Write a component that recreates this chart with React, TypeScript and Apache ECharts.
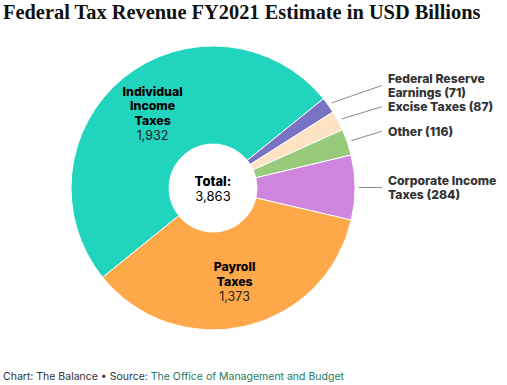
import React, { useEffect, useRef } from "react";
import * as echarts from "echarts";

const categories = [
  "Individual Income Taxes",
  "Federal Reserve Earnings",
  "Excise Taxes",
  "Other",
  "Corporate Income Taxes",
  "Payroll Taxes",
];
const labelNames = [
  "Individual\nIncome\nTaxes",
  "Federal Reserve\nEarnings",
  "Excise Taxes",
  "Other",
  "Corporate Income\nTaxes",
  "Payroll\nTaxes",
];
const values = [1932, 71, 87, 116, 284, 1373];
const insideLabel = [true, false, false, false, false, true];
const colors = ["#20D4BE", "#7A73C4", "#FDE2C3", "#99C97B", "#CF84DD", "#FFA84A"];

const FONT = "Inter, 'Noto Sans', sans-serif";
const CX = 213;
const CY = 188;
const R_IN = 44;
const R_OUT = 142;
const LABEL_COL = CX + R_OUT + 33;

export default function App() {
  const ref = useRef<HTMLDivElement>(null);
  useEffect(() => {
    if (!ref.current) return;
    const chart = echarts.init(ref.current, undefined, { renderer: "svg" });
    const total = values.reduce((a, b) => a + b, 0);
    const fmt = (v: number) => v.toLocaleString("en-US");
    const data = categories.map((c, i) => ({
      name: c,
      value: values[i],
      itemStyle: { color: colors[i] },
      label: insideLabel[i]
        ? {
            position: "inside",
            formatter: () =>
              labelNames[i]
                .split("\n")
                .map((s) => `{b|${s}}`)
                .join("\n") + `\n{v|${fmt(values[i])}}`,
          }
        : {
            position: "outside",
            formatter: () => {
              const lines = labelNames[i].split("\n");
              lines[lines.length - 1] += ` (${fmt(values[i])})`;
              return lines.map((s) => `{o|${s}}`).join("\n");
            },
          },
      labelLine: { show: !insideLabel[i] },
    }));

    chart.setOption({
      animation: false,
      backgroundColor: "#fff",
      title: [
        {
          text: "Federal Tax Revenue FY2021 Estimate in USD Billions",
          left: 3,
          top: 2,
          padding: 0,
          textStyle: {
            fontFamily: "'Liberation Serif', serif",
            fontWeight: "bold",
            fontSize: 20.4,
            color: "#111",
          },
        },
        {
          text: "{a|Chart: The Balance • Source: }{b|The Office of Management and Budget}",
          left: 3,
          top: 371,
          padding: 0,
          textStyle: {
            fontWeight: "normal",
            rich: {
              a: { fontFamily: FONT, fontWeight: "normal", fontSize: 10.5, color: "#333" },
              b: { fontFamily: FONT, fontWeight: "normal", fontSize: 10.5, color: "#1D7A62" },
            },
          },
        },
      ],
      graphic: [
        {
          type: "text",
          x: CX,
          y: CY,
          style: {
            text: "{t|Total:}\n{v|" + fmt(total) + "}",
            align: "center",
            verticalAlign: "middle",
            textAlign: "center",
            textVerticalAlign: "middle",
            rich: {
              t: { fontFamily: FONT, fontWeight: 800, fontSize: 13, color: "#222", lineHeight: 15, align: "center" },
              v: { fontFamily: FONT, fontSize: 13, color: "#222", lineHeight: 15, align: "center" },
            },
          },
        },
      ],
      series: [
        {
          type: "pie",
          center: [CX, CY],
          radius: [R_IN, R_OUT],
          startAngle: 219,
          clockwise: true,
          avoidLabelOverlap: true,
          itemStyle: { borderColor: "#fff", borderWidth: 1 },
          label: {
            overflow: "none",
            rich: {
              b: { fontFamily: FONT, fontWeight: 800, fontSize: 12.3, color: "#000", lineHeight: 14.5 },
              v: { fontFamily: FONT, fontSize: 12.5, color: "#222", lineHeight: 15 },
              o: { fontFamily: FONT, fontWeight: 800, fontSize: 12.2, color: "#333", lineHeight: 14.5 },
            },
          },
          labelLine: {
            length: 34,
            length2: 0,
            lineStyle: { color: "#8a8a8a", width: 1 },
          },
          labelLayout: (params: any) => {
            const pts = params.labelLinePoints;
            if (!pts || pts.length < 3) return {};
            const p0 = pts[0];
            const p1 = pts[1];
            const p2 = pts[2];
            const dx = p1[0] - p0[0];
            const dy = p1[1] - p0[1];
            const len = Math.sqrt(dx * dx + dy * dy) || 1;
            const s = [p0[0] + (dx / len) * 4, p0[1] + (dy / len) * 4];
            return {
              x: LABEL_COL,
              align: "left",
              labelLinePoints: [s, s, [LABEL_COL - 6, p2[1]]],
            };
          },
          data,
        },
      ],
    });
    return () => chart.dispose();
  }, []);
  return (
    <div
      ref={ref}
      style={{ position: "absolute", left: 0, top: 0, width: 507, height: 385 }}
    />
  );
}
